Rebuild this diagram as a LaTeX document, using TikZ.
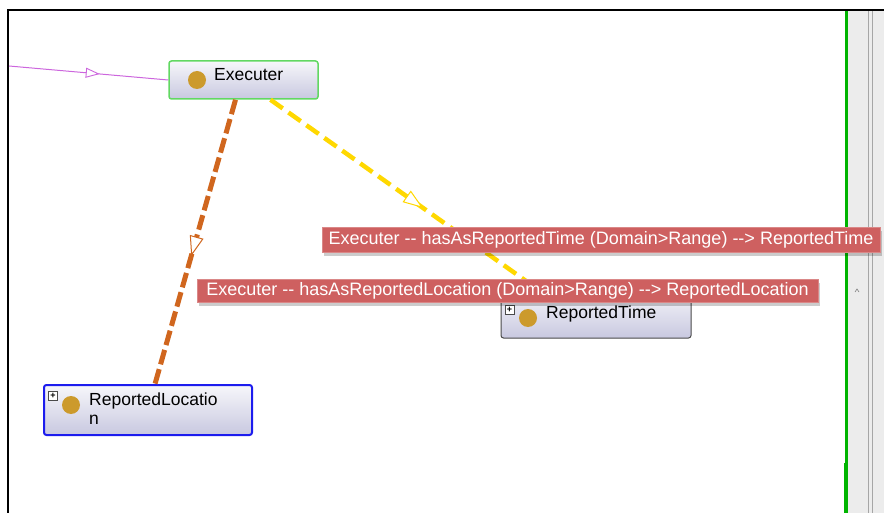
\documentclass[tikz,border=0pt]{standalone}
\usepackage{fontspec}
\setmainfont{Liberation Sans}
\usetikzlibrary{positioning,calc,arrows.meta,decorations.markings,shadows}
\definecolor{ogGreen}{HTML}{62D862}
\definecolor{ogBlue}{HTML}{1C1CEE}
\definecolor{ogGrey}{HTML}{4A4A4A}
\definecolor{ogLav}{HTML}{C8C8E0}
\definecolor{ogGold}{HTML}{CC9A2C}
\definecolor{ogOrange}{HTML}{D0661E}
\definecolor{ogYellow}{HTML}{FFD800}
\definecolor{ogViolet}{HTML}{CC66DD}
\definecolor{ogRed}{HTML}{CE6060}
\definecolor{ogPanel}{HTML}{ECECEC}
\definecolor{ogFrame}{HTML}{00B400}
\newcommand{\hy}{-\kern0pt-}
\tikzset{
  x=1pt, y=-1pt,
  classbox/.style args={#1,#2}{
  rectangle,
  rounded corners=2.5pt,
  top color=ogLav!15,
  bottom color=ogLav,
  minimum width=#1pt,
  minimum height=#2pt,
  inner sep=0pt,
  },
  ball/.style={circle,fill=ogGold,minimum size=18pt,inner sep=0pt},
  expander/.style={rectangle,draw=ogGrey,fill=white,line width=0.6pt,minimum size=9pt,inner sep=0pt,font=\fontsize{9}{9}\selectfont\bfseries},
  classname/.style={anchor=west,inner sep=0pt,align=left,font=\fontsize{17.5}{19}\selectfont},
  midtip/.style={postaction={decorate},decoration={markings,
    mark=at position #1 with {\arrow{Triangle[fill=white,line width=1pt,length=20pt,width=14pt]}}}},
  smalltip/.style={postaction={decorate},decoration={markings,
    mark=at position #1 with {\arrow{Triangle[fill=white,line width=0.9pt,length=14pt,width=10pt]}}}},
  tiplabel/.style args={#1,#2}{
  rectangle,
  fill=ogRed,
  draw=ogRed!75!white,
  text=white,
  font=\fontsize{18}{20}\selectfont,
  minimum width=#1pt,
  minimum height=#2pt,
  inner sep=0pt,
  drop shadow={shadow xshift=2pt,shadow yshift=-4pt,opacity=0.2,fill=black}
  }
}
\begin{document}
\begin{tikzpicture}
  \useasboundingbox (0,0) rectangle (884,513);
  % side panel and frame
  \fill[ogPanel] (848,10) rectangle (884,513);
  \draw[gray!70,line width=0.8pt] (868,10) -- (868,513) (872.5,10) -- (872.5,513);
  \draw[gray,line width=0.6pt] (855,292) -- (857,289) -- (859,292);
  \draw[ogFrame,line width=3pt] (846.5,10) -- (846.5,513);
  \fill[ogFrame] (843.5,463) rectangle (845,513);
  \draw[line width=2pt] (8,513) -- (8,10) -- (884,10);

  \node [classbox={149,38},draw=ogGreen,line width=1.5pt] (ex) at (243.5,80) {};
  \node [ball] (exball) at (197,80) {};
  \node [classname] (extxt) at (214,75) {Executer};

  \node [classbox={190,48},draw=ogGrey,line width=1pt] (rt) at (596,314) {};
  \node [expander] (rtplus) at (509.5,310) {+};
  \node [ball] (rtball) at (528,318) {};
  \node [classname] (rttxt) at (546,314) {ReportedTime};

  \node [classbox={208,50},draw=ogBlue,line width=2pt] (rl) at (148,410) {};
  \node [expander] (rlplus) at (53,396) {+};
  \node [ball] (rlball) at (71,405) {};
  \node [classname] (rltxt) at (89,409) {ReportedLocatio\\n};

  \coordinate (in) at (9,66);
  \draw [ogViolet,line width=1pt,smalltip=0.57] (in) -- (ex.west);
  \draw [ogOrange,line width=5pt,dash pattern=on 15pt off 5pt,midtip=0.55]
        ([xshift=-8pt]ex.south) -- ([xshift=7pt]rl.north);
  \draw [ogYellow,line width=4.5pt,dash pattern=on 15pt off 7pt,midtip=0.57]
        ([xshift=27pt]ex.south) -- ([xshift=-58pt]rt.north);

  \node [tiplabel={558,25}] (lbtime) at (601,239.5)
        {Executer \hy{} hasAsReportedTime (Domain>Range) \hy> ReportedTime};
  \node [tiplabel={621,23}] (lbloc) at (507.5,290.5)
        {Executer \hy{} hasAsReportedLocation (Domain>Range) \hy> ReportedLocation};
\end{tikzpicture}
\end{document}
